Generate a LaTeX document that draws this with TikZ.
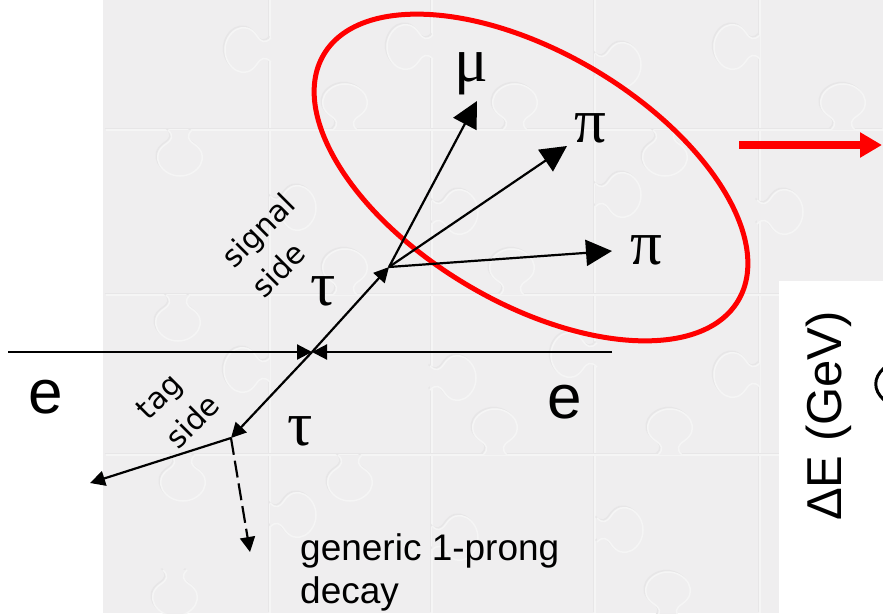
\documentclass[tikz,border=0pt]{standalone}
\usepackage{fontspec}
\setmainfont{Liberation Sans}
\newfontfamily\greekfont{Liberation Serif}
\newfontfamily\labelfont{DejaVu Sans}
\usetikzlibrary{arrows.meta,positioning,shapes.geometric}
\definecolor{pzback}{RGB}{239,238,239}
\definecolor{pzlight}{RGB}{245,245,245}
\definecolor{pzshade}{RGB}{231,230,231}
\begin{document}
\begin{tikzpicture}[
  x=1pt,y=-1pt,
  piece/.style={draw=pzlight,line width=1.5pt,
                preaction={draw=pzshade,line width=1.5pt,transform canvas={xshift=-1.5pt,yshift=1.5pt}}},
  knob/.style={piece,fill=pzback},
  arrbig/.style={-{Triangle[length=26pt,width=26pt]},line width=2.2pt},
  arrsmall/.style={-{Triangle[length=15pt,width=15pt]},line width=2.2pt},
  particle/.style={font=\greekfont\fontsize{63}{63}\selectfont,inner sep=0pt},
  beamname/.style={font=\fontsize{62}{62}\selectfont,inner sep=0pt},
  sidename/.style={font=\labelfont\fontsize{30}{42}\selectfont,align=left,rotate=45,inner sep=0pt}
]
\useasboundingbox (0,0) rectangle (883,613);
\fill[pzback] (103,0) rectangle (883,613);
% puzzle pieces
\foreach \xa in {270,432,595,760}
  \draw[piece] (\xa,0) -- (\xa,613);
\foreach \ya in {130,295,455}
  \draw[piece] (106,\ya) -- (883,\ya);
\foreach \xa/\ya/\r in {271/50/90,433/47/90,595/65/-90,760/47/90,
                        270/208/-90,432/212/-90,595/195/-90,757/212/-90,
                        270/370/90,430/378/-90,597/355/90,760/375/90,
                        270/515/-90,432/538/-90,597/530/-90,
                        180/130/180,345/130/0,515/130/0,665/130/180,843/130/0,
                        178/295/180,345/295/0,512/295/0,
                        183/455/180,350/455/180,495/455/0,670/455/0,
                        175/570/180,668/618/0}
  \draw[knob,shift={(\xa,\ya)},rotate=\r] (-12,0) .. controls (-6,-6) and (-8,-10) .. (-14,-14)
    .. controls (-32,-26) and (-18,-46) .. (0,-46) .. controls (18,-46) and (32,-26) .. (14,-14)
    .. controls (8,-10) and (6,-6) .. (12,0);
\fill[white] (779,281) rectangle (883,613);

\coordinate (beamL) at (8,352);
\coordinate (beamR) at (612,352);
\coordinate (ipoint) at (312,352);
\coordinate (sigv) at (389,267);
\coordinate (tagv) at (231,438);
\coordinate (mutip) at (477,101);
\coordinate (pitipA) at (567,146);
\coordinate (pitipB) at (612,251);
\coordinate (tagtip) at (90,483);
\coordinate (dashtip) at (250,552);
\coordinate (outL) at (739,145);
\coordinate (outR) at (882,145);

\node[ellipse,draw=red,line width=5pt,minimum width=482pt,minimum height=250pt,
      inner sep=0pt,rotate=-30.7] (ring) at (531,177.5) {};

\draw[arrsmall] (beamL) -- (ipoint);
\draw[arrsmall] (beamR) -- (ipoint);
\draw[arrsmall] (ipoint) -- (sigv);
\draw[arrsmall] (ipoint) -- (tagv);
\draw[arrbig] (sigv) -- (mutip);
\draw[arrbig] (sigv) -- (pitipA);
\draw[arrbig] (sigv) -- (pitipB);
\draw[arrsmall] (tagv) -- (tagtip);
\draw[arrsmall,dash pattern=on 17pt off 6pt] (tagv) -- (dashtip);
\draw[-{Triangle[length=22pt,width=24pt]},red,line width=8pt] (outL) -- (outR);

\node[particle] (mu) at (471,74) {μ};
\node[particle] (piA) at (590,128) {π};
\node[particle] (piB) at (646,250) {π};
\node[particle] (tauS) at (323,291) {τ};
\node[particle] (tauT) at (300,431) {τ};
\node[beamname] (eL) at (46,397) {e};
\node[beamname] (eR) at (565,402) {e};
\node[sidename] (signal) at (273,245) {signal\\side};
\node[sidename] (tag) at (178,407) {tag\\side};
\node[font=\fontsize{37}{43}\selectfont,align=left,anchor=west,inner sep=0pt] (generic) at (300,572)
  {generic 1-prong\\decay};
\node[font=\fontsize{49}{49}\selectfont,rotate=90,inner sep=0pt] (axis) at (829,416) {ΔE (GeV)};
\draw[line width=3pt] (884,368) .. controls (873,378) and (873,390) .. (884,400);
\end{tikzpicture}
\end{document}
